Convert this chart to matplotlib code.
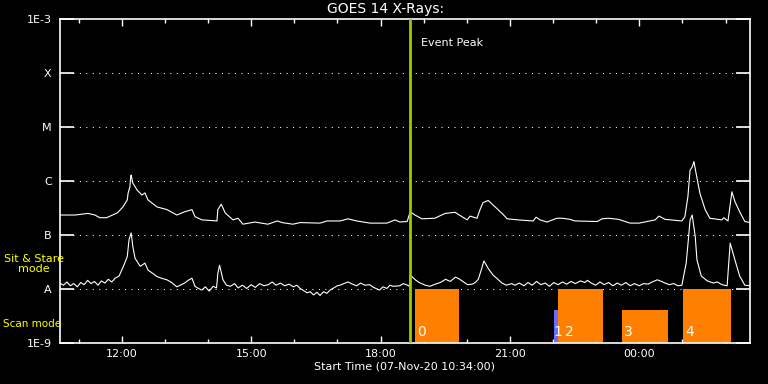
import numpy as np
import matplotlib
matplotlib.use("Agg")
import matplotlib.pyplot as plt
from matplotlib.ticker import FixedLocator, NullLocator

# hours after 10:34 (07-Nov-20), fluxes as log10(W/m^2)
long_t = [0.00, 0.35, 0.65, 0.81, 0.92, 1.08, 1.22, 1.33, 1.39, 1.46, 1.56, 1.58, 1.62, 1.64, 1.65,
          1.69, 1.79, 1.90, 1.97, 2.04, 2.25, 2.48, 2.71, 2.89, 3.06, 3.13, 3.29, 3.64, 3.66, 3.74,
          3.83, 4.01, 4.13, 4.24, 4.52, 4.82, 5.04, 5.15, 5.40, 5.57, 6.03, 6.19, 6.49, 6.68, 6.88,
          7.19, 7.58, 7.77, 7.88, 8.05, 8.12, 8.23, 8.39, 8.69, 8.93, 9.16, 9.32, 9.44, 9.51, 9.67,
          9.74, 9.81, 9.93, 10.09, 10.25, 10.37, 10.62, 10.97, 11.04, 11.13, 11.29, 11.52, 11.66, 11.82, 11.94,
          12.46, 12.57, 12.72, 12.95, 13.22, 13.43, 13.80, 13.89, 14.03, 14.42, 14.49, 14.56, 14.61, 14.66, 14.70,
          14.75, 14.84, 14.96, 15.07, 15.35, 15.39, 15.49, 15.58, 15.65, 15.76, 15.88, 16.00]
long_log = [-6.63, -6.63, -6.60, -6.63, -6.68, -6.68, -6.63, -6.59, -6.54, -6.48, -6.35, -6.22, -6.11, -5.92, -5.89,
            -6.04, -6.17, -6.26, -6.22, -6.35, -6.48, -6.53, -6.63, -6.57, -6.53, -6.66, -6.72, -6.74, -6.53, -6.43,
            -6.59, -6.72, -6.69, -6.80, -6.76, -6.80, -6.74, -6.77, -6.80, -6.77, -6.78, -6.74, -6.74, -6.70, -6.74,
            -6.78, -6.78, -6.72, -6.76, -6.75, -6.57, -6.63, -6.70, -6.69, -6.60, -6.58, -6.66, -6.72, -6.65, -6.69,
            -6.53, -6.40, -6.36, -6.48, -6.60, -6.70, -6.72, -6.74, -6.67, -6.72, -6.76, -6.69, -6.69, -6.71, -6.74,
            -6.75, -6.70, -6.69, -6.71, -6.78, -6.78, -6.72, -6.65, -6.71, -6.74, -6.66, -6.29, -5.80, -5.74, -5.64,
            -5.86, -6.23, -6.53, -6.69, -6.72, -6.68, -6.74, -6.20, -6.38, -6.57, -6.75, -6.77]

short_t = [0.00, 0.08, 0.16, 0.24, 0.32, 0.40, 0.48, 0.56, 0.64, 0.72, 0.80, 0.88, 0.96, 1.04, 1.12,
           1.20, 1.28, 1.37, 1.46, 1.56, 1.60, 1.65, 1.69, 1.74, 1.86, 1.97, 2.04, 2.13, 2.25, 2.35,
           2.48, 2.59, 2.71, 2.81, 2.89, 2.97, 3.06, 3.13, 3.21, 3.29, 3.37, 3.46, 3.55, 3.63, 3.66,
           3.70, 3.78, 3.86, 3.95, 4.05, 4.13, 4.23, 4.33, 4.43, 4.53, 4.63, 4.73, 4.83, 4.92, 5.01,
           5.11, 5.21, 5.31, 5.41, 5.49, 5.57, 5.65, 5.73, 5.80, 5.88, 5.96, 6.03, 6.11, 6.19, 6.26,
           6.35, 6.43, 6.49, 6.58, 6.68, 6.78, 6.88, 6.97, 7.07, 7.18, 7.27, 7.41, 7.49, 7.58, 7.65,
           7.73, 7.88, 7.96, 8.06, 8.10, 8.12, 8.24, 8.33, 8.47, 8.58, 8.70, 8.82, 8.94, 9.05, 9.17,
           9.25, 9.36, 9.45, 9.56, 9.63, 9.70, 9.79, 9.83, 9.93, 10.04, 10.15, 10.25, 10.35, 10.47, 10.55,
           10.65, 10.76, 10.85, 10.95, 11.05, 11.15, 11.25, 11.35, 11.45, 11.55, 11.65, 11.75, 11.85, 11.95, 12.07,
           12.17, 12.23, 12.32, 12.42, 12.52, 12.62, 12.72, 12.82, 12.92, 13.02, 13.12, 13.22, 13.32, 13.43, 13.53,
           13.64, 13.73, 13.85, 13.95, 14.03, 14.13, 14.23, 14.33, 14.42, 14.52, 14.57, 14.61, 14.66, 14.73, 14.77,
           14.87, 15.01, 15.15, 15.24, 15.35, 15.47, 15.54, 15.65, 15.76, 15.88, 16.00]
short_log = [-7.89, -7.93, -7.87, -7.94, -7.90, -7.96, -7.88, -7.92, -7.84, -7.90, -7.86, -7.93, -7.85, -7.89, -7.82,
             -7.87, -7.80, -7.76, -7.60, -7.40, -7.09, -6.96, -7.22, -7.43, -7.58, -7.52, -7.65, -7.70, -7.77, -7.80,
             -7.83, -7.88, -7.96, -7.92, -7.89, -7.84, -7.80, -7.95, -7.99, -8.02, -7.96, -8.04, -7.95, -7.98, -7.71,
             -7.56, -7.83, -7.93, -7.95, -7.90, -7.98, -7.93, -7.99, -7.92, -7.97, -7.90, -7.94, -7.92, -7.87, -7.93,
             -7.89, -7.94, -7.91, -7.96, -7.93, -7.99, -8.03, -8.07, -8.05, -8.11, -8.06, -8.12, -8.05, -8.08, -8.02,
             -7.98, -7.94, -7.93, -7.90, -7.87, -7.91, -7.94, -7.89, -7.93, -7.92, -7.97, -8.02, -7.96, -7.99, -7.93,
             -7.95, -7.94, -7.90, -7.93, -7.95, -7.74, -7.83, -7.88, -7.93, -7.95, -7.91, -7.88, -7.82, -7.86, -7.78,
             -7.81, -7.87, -7.92, -7.91, -7.88, -7.82, -7.59, -7.48, -7.62, -7.74, -7.82, -7.89, -7.93, -7.90, -7.93,
             -7.89, -7.94, -7.88, -7.93, -7.86, -7.92, -7.89, -7.95, -7.88, -7.92, -7.87, -7.91, -7.86, -7.90, -7.85,
             -7.88, -7.84, -7.89, -7.93, -7.87, -7.92, -7.88, -7.94, -7.89, -7.93, -7.88, -7.94, -7.90, -7.94, -7.90,
             -7.91, -7.87, -7.83, -7.86, -7.89, -7.92, -7.90, -7.94, -7.93, -7.52, -7.09, -6.72, -6.63, -7.03, -7.46,
             -7.76, -7.85, -7.89, -7.87, -7.92, -7.94, -7.15, -7.46, -7.76, -7.93, -7.94]

event_peak = 8.12

# observation blocks
obs_labels = ['0', '1', '2', '3', '4']
obs_start = [8.23, 11.455, 11.55, 13.03, 14.45]
obs_end = [9.25, 11.55, 12.59, 14.10, 15.56]
obs_top = [1e-8, 4e-9, 1e-8, 4e-9, 1e-8]
obs_color = ['#ff8000', '#6b6bff', '#ff8000', '#ff8000', '#ff8000']

class_labels = ['1E-9', 'A', 'B', 'C', 'M', 'X', '1E-3']
class_levels = [1e-9, 1e-8, 1e-7, 1e-6, 1e-5, 1e-4, 1e-3]

hour_ticks = [0.433 + k for k in range(16)]
major_ticks = [1.433, 4.433, 7.433, 10.433, 13.433]
major_labels = ['12:00', '15:00', '18:00', '21:00', '00:00']

plt.rcParams['font.family'] = ['DejaVu Sans']
fig = plt.figure(figsize=(7.68, 3.84), dpi=100, facecolor='black')
ax = fig.add_axes([60/768, 41/384, 690/768, 324/384], facecolor='black')
ax.set_yscale('log')
ax.set_xlim(0, 16)
ax.set_ylim(1e-9, 1e-3)

for lev in class_levels[1:-1]:
    ax.axhline(lev, color='white', lw=0.75, ls=(0, (1, 5.2)), zorder=1)

for s, e, top, c in zip(obs_start, obs_end, obs_top, obs_color):
    ax.bar(s, top - 1e-9, width=e - s, bottom=1e-9, align='edge', color=c, zorder=2)
# small nudges so the "1" and "2" digits sit side by side
lab_dx = [0.04, -0.01, 0.17, 0.04, 0.04]
for lab, s, dx in zip(obs_labels, obs_start, lab_dx):
    ax.text(s + dx, 1.2e-9, lab, color='white', fontsize=10, ha='left', va='bottom', zorder=4)

ax.plot(long_t, 10**np.array(long_log), color='white', lw=0.8, zorder=3)
ax.plot(short_t, 10**np.array(short_log), color='white', lw=0.8, zorder=3)

ax.axvline(event_peak, color='#99cc00', lw=2, zorder=5)
ax.text(event_peak + 0.25, 10**-3.45, 'Event Peak', color='white', fontsize=8, va='center')

for sp in ax.spines.values():
    sp.set_color('white')
    sp.set_linewidth(1.2)

ax.yaxis.set_major_locator(FixedLocator(class_levels))
ax.yaxis.set_minor_locator(NullLocator())
ax.set_yticklabels(class_labels)
ax.tick_params(axis='y', which='major', direction='in', length=10, width=1.2,
               colors='white', labelsize=8, pad=6, right=True)

ax.xaxis.set_major_locator(FixedLocator(major_ticks))
ax.xaxis.set_minor_locator(FixedLocator(hour_ticks))
ax.set_xticklabels(major_labels)
ax.tick_params(axis='x', which='major', direction='in', length=5, width=1,
               colors='white', labelsize=8, pad=4, top=True)
ax.tick_params(axis='x', which='minor', direction='in', length=3, width=1,
               colors='white', top=True)
ax.set_xlabel('Start Time (07-Nov-20 10:34:00)', color='white', fontsize=8, labelpad=2)

fig.text(386/768, 1 - 9/384, 'GOES 14 X-Rays:', color='white', fontsize=10, ha='center', va='center')
fig.text(34/768, 1 - 264/384, 'Sit & Stare\nmode', color='yellow', fontsize=8, ha='center',
         va='center', linespacing=1.0)
fig.text(3/768, 1 - 324/384, 'Scan mode', color='yellow', fontsize=7.5, ha='left', va='center')

fig.savefig('out.png', dpi=100, facecolor='black')
